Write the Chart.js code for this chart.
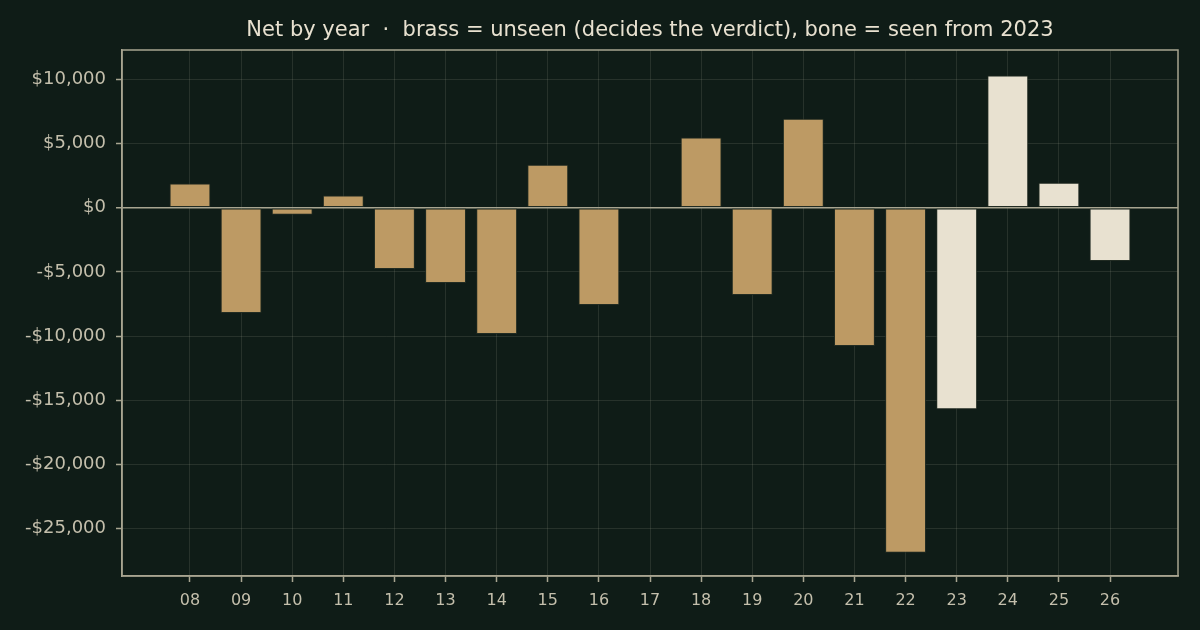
<!DOCTYPE html>
<html lang="en">
<head>
  <meta charset="UTF-8" />
  <title>Net by year</title>
  <script src="https://cdn.jsdelivr.net/npm/chart.js"></script>
  <style>
    html, body {
      margin: 0;
      padding: 0;
      background: #0f1c17;
    }
    #wrap {
      width: 1200px;
      height: 630px;
    }
  </style>
</head>
<body>
<div id="wrap"><canvas id="netChart"></canvas></div>
<script>
// values
const years = ["08", "09", "10", "11", "12", "13", "14", "15", "16", "17",
               "18", "19", "20", "21", "22", "23", "24", "25", "26"];
const net = [1900, -8200, -550, 950, -4770, -5860, -9840, 3360, -7580, 0,
             5470, -6800, 6950, -10780, -26880, -15700, 10310, 1950, -4140];
const yTicks = [-25000, -20000, -15000, -10000, -5000, 0, 5000, 10000];
const seenFrom = 23;
const titleText = "Net by year  ·  brass = unseen (decides the verdict), bone = seen from 2023";

const BRASS = "#bd9a64";
const BONE = "#e8e1d0";
const AXIS = "#a8a591";
const TEXT = "#c4bfac";
const GRID = "rgba(200, 200, 180, 0.13)";

const points = net.map((v, i) => ({ x: i, y: v }));
const colors = years.map(y => Number(y) >= seenFrom ? BONE : BRASS);

function money(v) {
  const s = "$" + Math.abs(v).toLocaleString("en-US");
  return v < 0 ? "-" + s : s;
}

// frame round the plot, and the title centred over the plot area
const framePlugin = {
  id: "frame",
  afterDraw(chart) {
    const { ctx, chartArea: a } = chart;
    ctx.save();
    ctx.strokeStyle = AXIS;
    ctx.lineWidth = 1.5;
    ctx.strokeRect(a.left, a.top, a.right - a.left, a.bottom - a.top);
    ctx.fillStyle = BONE;
    ctx.font = "21px 'DejaVu Sans', sans-serif";
    ctx.textAlign = "center";
    ctx.textBaseline = "middle";
    ctx.fillText(titleText, (a.left + a.right) / 2, 31);
    ctx.restore();
  }
};

Chart.defaults.font.family = "'DejaVu Sans', sans-serif";

new Chart(document.getElementById("netChart"), {
  type: "bar",
  data: {
    datasets: [{
      data: points,
      backgroundColor: colors,
      borderColor: "rgba(35, 45, 35, 0.9)",
      borderWidth: 1,
      borderSkipped: false,
      categoryPercentage: 1.0,
      barPercentage: 0.8,
    }]
  },
  plugins: [framePlugin],
  options: {
    responsive: true,
    maintainAspectRatio: false,
    animation: false,
    layout: { padding: { left: 0, right: 22, top: 50, bottom: 0 } },
    plugins: {
      legend: { display: false },
      tooltip: { enabled: false },
      title: { display: false }
    },
    scales: {
      x: {
        type: "linear",
        min: -1.33,
        max: 19.33,
        offset: false,
        z: 1,
        afterBuildTicks: scale => {
          scale.ticks = years.map((_, i) => ({ value: i }));
        },
        afterFit: scale => { scale.height = 54; },
        ticks: {
          color: TEXT,
          font: { size: 16 },
          padding: 9,
          maxRotation: 0,
          autoSkip: false,
          callback: v => years[v]
        },
        grid: {
          offset: false,
          color: GRID,
          lineWidth: 1,
          tickColor: AXIS,
          tickLength: 6,
          tickWidth: 1.5
        },
        border: { color: AXIS, width: 1.5 }
      },
      y: {
        min: -28700,
        max: 12300,
        z: 1,
        afterBuildTicks: scale => {
          scale.ticks = yTicks.map(v => ({ value: v }));
        },
        afterFit: scale => { scale.width = 122; },
        ticks: {
          color: TEXT,
          font: { size: 18 },
          padding: 10,
          callback: v => money(v)
        },
        grid: {
          color: c => c.tick && c.tick.value === 0 ? AXIS : GRID,
          lineWidth: c => c.tick && c.tick.value === 0 ? 1.5 : 1,
          tickColor: AXIS,
          tickLength: 6,
          tickWidth: 1.5
        },
        border: { color: AXIS, width: 1.5 }
      }
    }
  }
});
</script>
</body>
</html>
